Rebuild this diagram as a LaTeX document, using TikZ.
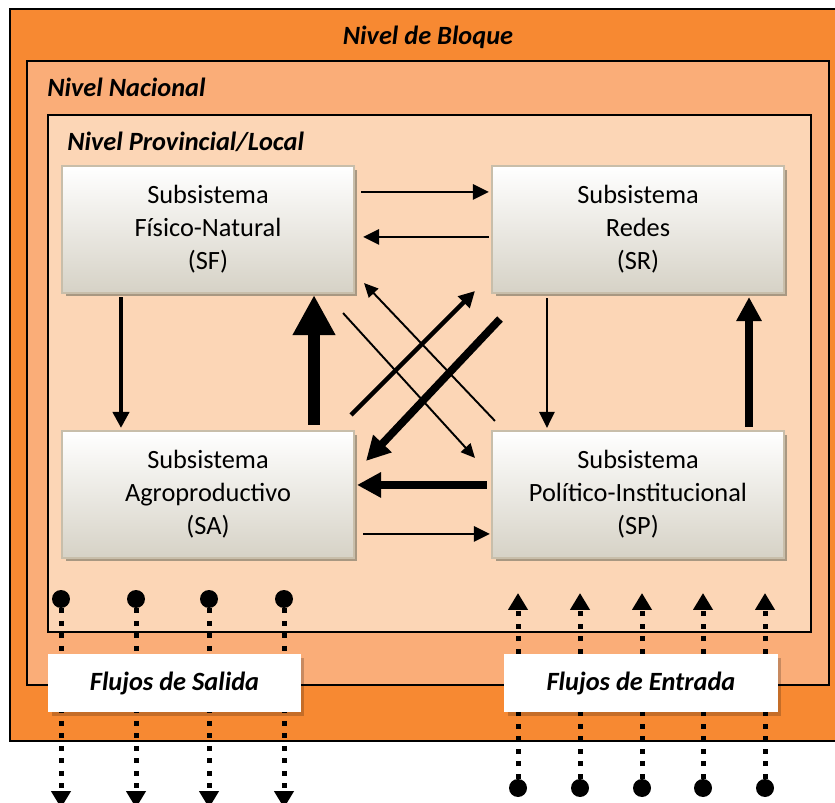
\documentclass[tikz,border=0pt]{standalone}
\usepackage{fontspec}
\setmainfont{Carlito}
\usetikzlibrary{arrows.meta,calc,shadows}

\definecolor{bloque}{RGB}{247,137,50}
\definecolor{nacional}{RGB}{250,173,120}
\definecolor{provincial}{RGB}{252,214,182}
\definecolor{bordecaja}{RGB}{200,190,170}
\definecolor{sombracaja}{RGB}{168,152,130}
\definecolor{fondocaja}{RGB}{214,210,198}

\tikzset{
    nivel/.style={draw=black, line width=1.2pt},
    titulo/.style={font=\fontsize{15}{18}\selectfont\bfseries\itshape, inner sep=0pt},
    subsistema/.style={draw=bordecaja, line width=1.2pt, top color=white, bottom color=fondocaja,
        minimum width=5.84cm, minimum height=2.54cm, align=center, inner sep=0pt,
        font=\fontsize{15}{18.7}\selectfont,
        general shadow={fill=sombracaja, shadow xshift=0.07cm, shadow yshift=-0.07cm}},
    etiqueta/.style={fill=white, minimum height=1.16cm, inner sep=0pt,
        font=\fontsize{15}{18}\selectfont\bfseries\itshape,
        general shadow={fill=black, opacity=0.2, shadow xshift=0.07cm, shadow yshift=-0.08cm}},
    punto/.style={circle, fill=black, minimum size=0.36cm, inner sep=0pt},
    flujo/.style={line width=0.1cm, dash pattern=on 0.1cm off 0.15cm,
        -{Triangle[length=0.34cm,width=0.38cm]}},
    flechaFina/.style={line width=1.6pt, -{Triangle[length=0.32cm,width=0.3cm]}},
    flechaDiag/.style={line width=1.1pt, -{Triangle[length=0.28cm,width=0.26cm]}},
    flechaMedia/.style={line width=2.5pt, -{Triangle[length=0.32cm,width=0.32cm]}},
    flechaGruesa/.style={line width=4.4pt, -{Triangle[length=0.48cm,width=0.48cm]}},
    flechaMuyGruesa/.style={line width=7.3pt, -{Triangle[length=0.8cm,width=0.8cm]}},
}

\begin{document}
\begin{tikzpicture}[x=0.02cm, y=-0.02cm]
    \useasboundingbox (0,0) rectangle (835,803);
    % Niveles
    \filldraw[nivel, fill=bloque] (10,9) rectangle (845,741);
    \filldraw[nivel, fill=nacional] (27,61) rectangle (829,685);
    \filldraw[nivel, fill=provincial] (48,115) rectangle (811,632);
    \node[titulo] (Bloque) at (428,37) {Nivel de Bloque};
    \node[titulo, anchor=west] (Nacional) at (47,87) {Nivel Nacional};
    \node[titulo, anchor=west] (Provincial) at (67,142) {Nivel Provincial/Local};
    % Subsistemas
    \node[subsistema] (SF) at (208,229.5) {Subsistema\\Físico-Natural\\(SF)};
    \node[subsistema] (SR) at (638,229.5) {Subsistema\\Redes\\(SR)};
    \node[subsistema] (SA) at (208,494.5) {Subsistema\\Agroproductivo\\(SA)};
    \node[subsistema] (SP) at (638,494.5) {Subsistema\\Político-Institucional\\(SP)};
    % Flechas horizontales
    \draw[flechaFina] ($(SF.north east)+(6,27)$) -- ($(SR.north west)+(-2,27)$);
    \draw[flechaFina] ($(SR.north west)+(-2,72)$) -- ($(SF.north east)+(8,72)$);
    \draw[flechaGruesa] ($(SP.north west)+(-4,55)$) -- ($(SA.north east)+(2,55)$);
    \draw[flechaFina] ($(SA.north east)+(8,104)$) -- ($(SP.north west)+(-1,104)$);
    % Flechas verticales
    \draw[flechaMedia] ($(SF.south west)+(60,3)$) -- ($(SA.north west)+(60,-2)$);
    \draw[flechaMuyGruesa] ($(SA.north east)+(-41,-5)$) -- ($(SF.south east)+(-41,1)$);
    \draw[flechaFina] ($(SR.south west)+(56,4)$) -- ($(SP.north west)+(56,-2)$);
    \draw[flechaGruesa] ($(SP.north east)+(-36,-3)$) -- ($(SR.south east)+(-36,3)$);
    % Flechas diagonales
    \draw[flechaDiag] ($(SF.south east)+(-12,19)$) -- ($(SP.north west)+(-16,28)$);
    \draw[flechaDiag] ($(SP.north west)+(4,-9)$) -- ($(SF.south east)+(9,-11)$);
    \draw[flechaMedia] ($(SA.north east)+(-4,-15)$) -- ($(SR.south west)+(-16,-3)$);
    \draw[flechaGruesa] ($(SR.south west)+(9,25)$) -- ($(SA.north east)+(11,31)$);
    % Flujos de salida
    \foreach \x [count=\i] in {61,136,209,284} {
        \node[punto] (Salida-\i) at (\x,599) {};
        \coordinate (SalidaFin-\i) at (\x,808);
        \draw[flujo] (Salida-\i) -- (SalidaFin-\i);
    }
    % Flujos de entrada
    \foreach \x [count=\i] in {518,580,642,703,765} {
        \node[punto] (Entrada-\i) at (\x,788) {};
        \coordinate (EntradaFin-\i) at (\x,593);
        \draw[flujo] (Entrada-\i) -- (EntradaFin-\i);
    }
    % Etiquetas
    \node[etiqueta, minimum width=5.06cm] (Salida) at (174.5,683) {Flujos de Salida};
    \node[etiqueta, minimum width=5.48cm] (Entrada) at (641,683) {Flujos de Entrada};
\end{tikzpicture}
\end{document}
